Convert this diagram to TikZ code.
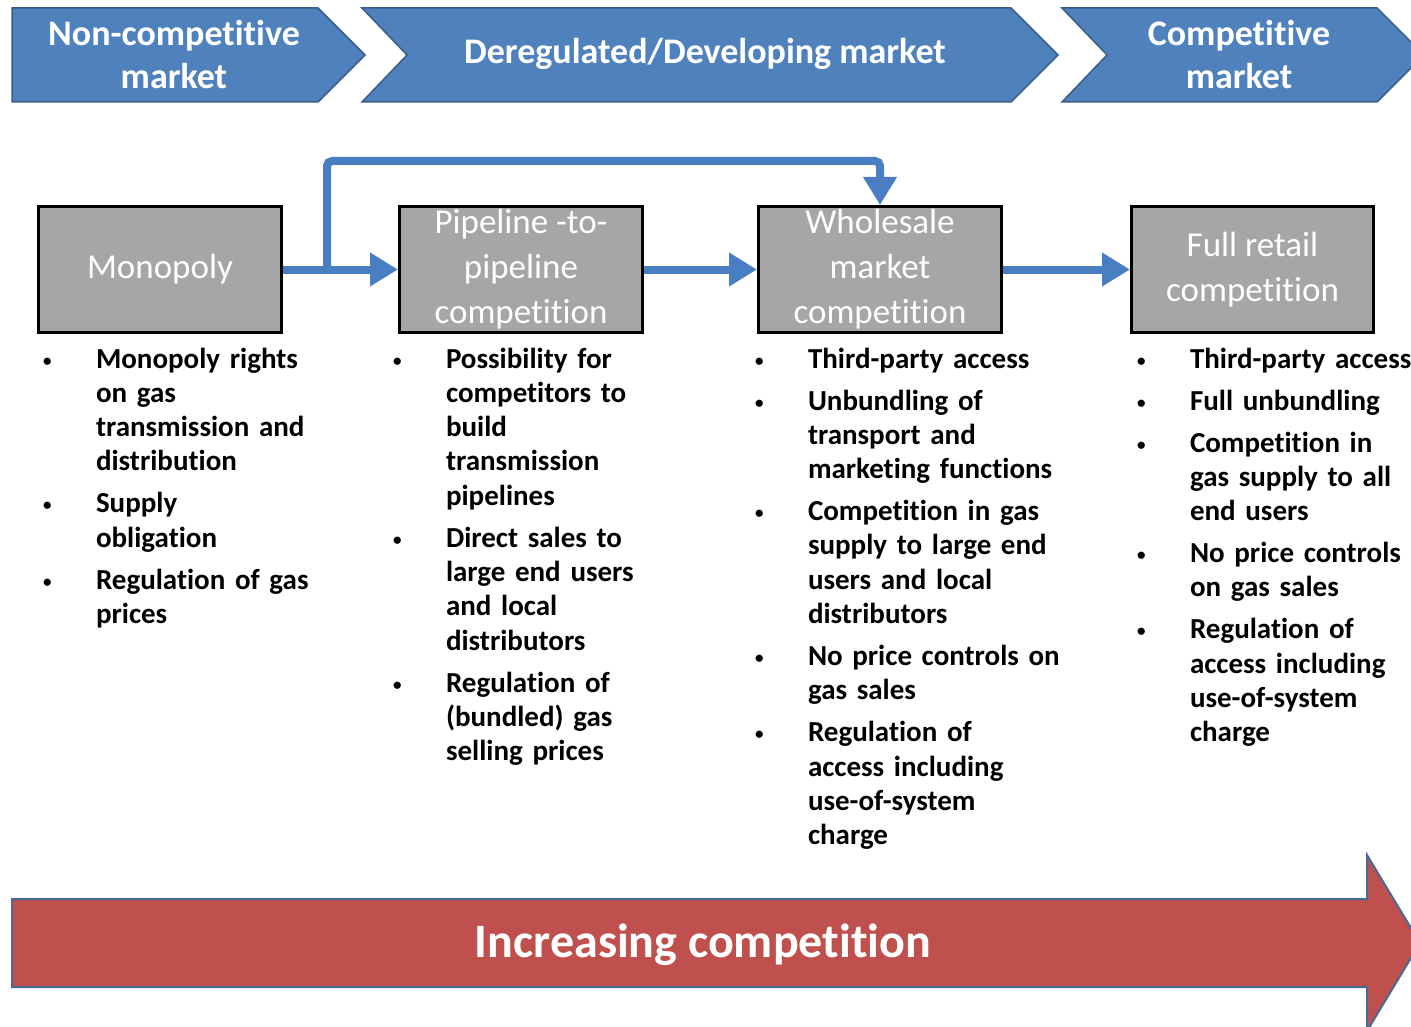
\documentclass[tikz,border=0pt]{standalone}
\usepackage{fontspec}
\setmainfont{Carlito}[Ligatures=NoCommon]
\usetikzlibrary{positioning,arrows.meta}
\definecolor{chevblue}{HTML}{4F81BD}
\definecolor{chevline}{HTML}{385D8A}
\definecolor{flowblue}{HTML}{4A7EC2}
\definecolor{boxgray}{HTML}{A6A6A6}
\definecolor{trendred}{HTML}{C0504D}
\definecolor{trendline}{HTML}{4A6A96}
\tikzset{
	stage node/.style={draw=black, line width=3pt, fill=boxgray, inner sep=2pt, minimum width=243pt, minimum height=126pt, align=center, text=white, font=\fontsize{35}{45}\selectfont},
	item node/.style={inner sep=0pt, outer sep=0pt, text width=300pt, align=left, font=\bfseries\fontsize{29}{34.3}\selectfont},
	bullet node/.style={inner sep=0pt, outer sep=0pt, anchor=north west, font=\bfseries\fontsize{29}{34.3}\selectfont},
	phase node/.style={text=white, align=center, font=\bfseries\fontsize{36}{43}\selectfont},
	trend node/.style={text=white, font=\bfseries\fontsize{48}{56}\selectfont},
	chevron/.style={fill=chevblue, draw=chevline, line width=1.5pt},
	flow/.style={draw=flowblue, line width=8pt, -{Triangle[length=28pt,width=32pt]}},
}
\newcommand\gasitem[3]{%
	\node[item node, #2] (#1) {\strut#3\strut};
	\node[bullet node] (#1b) at ([xshift=-53pt]#1.north west) {\strut\raisebox{2pt}{\fontsize{17}{20}\selectfont\textbullet}};
}

\begin{document}
\begin{tikzpicture}[x=1pt, y=-1pt]
	\useasboundingbox (0,0) rectangle (1411,1027);
	\clip (0,0) rectangle (1411,1027);

	% market phases
	\draw[chevron] (12,8) -- (318,8) -- (365,55) -- (318,102) -- (12,102) -- cycle;
	\draw[chevron] (362,8) -- (1011,8) -- (1058,55) -- (1011,102) -- (362,102) -- (407,55) -- cycle;
	\draw[chevron] (1062,8) -- (1377,8) -- (1424,55) -- (1377,102) -- (1062,102) -- (1107,55) -- cycle;
	\node[phase node] (noncomp) at (174,55) {Non-competitive\\market};
	\node[phase node] (dereg) at (705,54) {Deregulated/Developing market};
	\node[phase node] (comp) at (1239,55) {Competitive\\market};

	% stages
	\node[stage node] (mono) at (160,269.5) {Monopoly};
	\node[stage node, right=115pt of mono] (pipe) {Pipeline -to-\\pipeline\\competition};
	\node[stage node, right=113pt of pipe] (whole) {Wholesale\\market\\competition};
	\node[stage node, right=127pt of whole, minimum width=242pt] (retail) {Full retail\\competition};

	\draw[flow] (mono) -- (pipe);
	\draw[flow] (pipe) -- (whole);
	\draw[flow] (whole) -- (retail);
	\coordinate (split) at ([xshift=44pt]mono.east);
	\draw[flow, rounded corners=5pt] (split) |- ([yshift=44pt]whole.north) -- (whole.north);

	% features
	\gasitem{mono1}{anchor=north west, at={(96,344)}}{Monopoly rights\\on gas\\transmission and\\distribution}
	\gasitem{mono2}{below=7.7pt of mono1}{Supply\\obligation}
	\gasitem{mono3}{below=7.7pt of mono2}{Regulation of gas\\prices}

	\gasitem{pipe1}{anchor=north west, at={(446,344)}}{Possibility for\\competitors to\\build\\transmission\\pipelines}
	\gasitem{pipe2}{below=7.7pt of pipe1}{Direct sales to\\large end users\\and local\\distributors}
	\gasitem{pipe3}{below=7.7pt of pipe2}{Regulation of\\(bundled) gas\\selling prices}

	\gasitem{whole1}{anchor=north west, at={(808,344)}}{Third-party access}
	\gasitem{whole2}{below=7.7pt of whole1}{Unbundling of\\transport and\\marketing functions}
	\gasitem{whole3}{below=7.7pt of whole2}{Competition in gas\\supply to large end\\users and local\\distributors}
	\gasitem{whole4}{below=7.7pt of whole3}{No price controls on\\gas sales}
	\gasitem{whole5}{below=7.7pt of whole4}{Regulation of\\access including\\use-of-system\\charge}

	\gasitem{retail1}{anchor=north west, at={(1190,344)}}{Third-party access}
	\gasitem{retail2}{below=7.7pt of retail1}{Full unbundling}
	\gasitem{retail3}{below=7.7pt of retail2}{Competition in\\gas supply to all\\end users}
	\gasitem{retail4}{below=7.7pt of retail3}{No price controls\\on gas sales}
	\gasitem{retail5}{below=7.7pt of retail4}{Regulation of\\access including\\use-of-system\\charge}

	% trend
	\draw[fill=trendred, draw=trendline, line width=2pt] (12,899) -- (1367,899) -- (1367,855) -- (1420,943) -- (1367,1031) -- (1367,987) -- (12,987) -- cycle;
	\node[trend node] (trend) at (703,945) {Increasing competition};
\end{tikzpicture}
\end{document}
